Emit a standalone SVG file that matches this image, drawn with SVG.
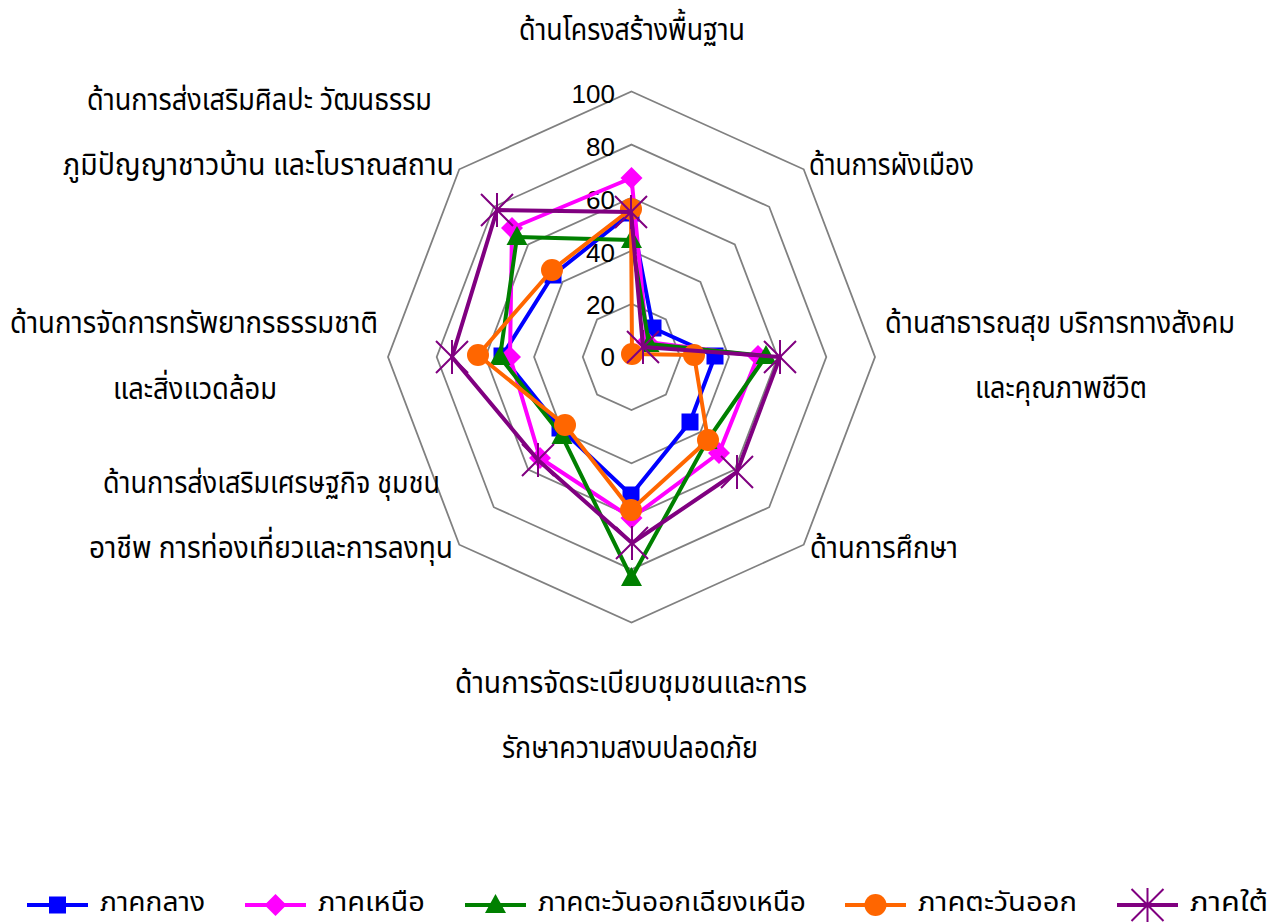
<svg xmlns="http://www.w3.org/2000/svg" xmlns:xlink="http://www.w3.org/1999/xlink" width="1284" height="923" viewBox="0 0 1284 923">
<style>
.grid{fill:none;stroke:#808080;stroke-width:1.8}
.lbl{font-family:"Noto Sans Thai","Noto Sans","DejaVu Sans",sans-serif;font-size:31px;fill:#000}
.leg{font-family:"Noto Sans Thai","Noto Sans","DejaVu Sans",sans-serif;font-size:27px;fill:#000}
.num{font-family:"Liberation Sans",Arial,sans-serif;font-size:26px;fill:#000;text-anchor:end}
.s{fill:none;stroke-width:4;stroke-linejoin:round}
</style>
<defs>
<rect id="mSq" x="-8.5" y="-8.5" width="17" height="17" fill="#0000FF"/>
<polygon id="mDi" points="0,-11 11,0 0,11 -11,0" fill="#FF00FF"/>
<polygon id="mTr" points="0,-11 10.5,8 -10.5,8" fill="#008000"/>
<circle id="mCi" r="11" fill="#FF6600"/>
<path id="mSt" d="M-16,-16L16,16M16,-16L-16,16M0,-17V17" stroke="#800080" stroke-width="2" fill="none"/>
</defs>
<rect width="1284" height="923" fill="#fff"/>
<g id="grid">
<polygon class="grid" points="631.5,91.5 803.7,169.3 875,357 803.7,544.7 631.5,622.5 459.3,544.7 388,357 459.3,169.3"/>
<polygon class="grid" points="631.5,144.6 769.2,206.8 826.3,357 769.2,507.2 631.5,569.4 493.8,507.2 436.7,357 493.8,206.8"/>
<polygon class="grid" points="631.5,197.7 734.8,244.4 777.6,357 734.8,469.6 631.5,516.3 528.2,469.6 485.4,357 528.2,244.4"/>
<polygon class="grid" points="631.5,250.8 700.4,281.9 728.9,357 700.4,432.1 631.5,463.2 562.6,432.1 534.1,357 562.6,281.9"/>
<polygon class="grid" points="631.5,303.9 665.9,319.5 680.2,357 665.9,394.5 631.5,410.1 597.1,394.5 582.8,357 597.1,319.5"/>
</g>
<g id="axis-values">
<text class="num" x="615" y="103">100</text>
<text class="num" x="615" y="156">80</text>
<text class="num" x="615" y="209">60</text>
<text class="num" x="615" y="262">40</text>
<text class="num" x="615" y="314">20</text>
<text class="num" x="615" y="366">0</text>
</g>
<g id="connectors">
<g id="series-central">
<polygon class="s" stroke="#0000FF" points="631,213 653,328 715,356 690,422 631,495 560,428 502,356 553,275"/>
<use href="#mSq" x="631" y="213"/><use href="#mSq" x="653" y="328"/><use href="#mSq" x="715" y="356"/><use href="#mSq" x="690" y="422"/><use href="#mSq" x="631" y="495"/><use href="#mSq" x="560" y="428"/><use href="#mSq" x="502" y="356"/><use href="#mSq" x="553" y="275"/>
</g>
<g id="series-north">
<polygon class="s" stroke="#FF00FF" points="631.5,178 647,342 758,356 719,453 631.5,518 540,458 510,357 512,228"/>
<use href="#mDi" x="631.5" y="178"/><use href="#mDi" x="647" y="342"/><use href="#mDi" x="758" y="356"/><use href="#mDi" x="719" y="453"/><use href="#mDi" x="631.5" y="518"/><use href="#mDi" x="540" y="458"/><use href="#mDi" x="510" y="357"/><use href="#mDi" x="512" y="228"/>
</g>
<g id="series-northeast">
<polygon class="s" stroke="#008000" points="631.5,240 649,344 766,356 707,441 631.5,578 562,436 500,357 517,237"/>
<use href="#mTr" x="631.5" y="240"/><use href="#mTr" x="649" y="344"/><use href="#mTr" x="766" y="356"/><use href="#mTr" x="707" y="441"/><use href="#mTr" x="631.5" y="578"/><use href="#mTr" x="562" y="436"/><use href="#mTr" x="500" y="357"/><use href="#mTr" x="517" y="237"/>
</g>
<g id="series-east">
<polygon class="s" stroke="#FF6600" points="631,209 632,354 694,355 708,440 631,510 565,425 478,355 552,270"/>
<use href="#mCi" x="631" y="209"/><use href="#mCi" x="632" y="354"/><use href="#mCi" x="694" y="355"/><use href="#mCi" x="708" y="440"/><use href="#mCi" x="631" y="510"/><use href="#mCi" x="565" y="425"/><use href="#mCi" x="478" y="355"/><use href="#mCi" x="552" y="270"/>
</g>
<g id="series-south">
<polygon class="s" stroke="#800080" points="631,212 643,347 780,357 737,472 632,543 538,460 452,357 497,210"/>
<use href="#mSt" x="631" y="212"/><use href="#mSt" x="643" y="347"/><use href="#mSt" x="780" y="357"/><use href="#mSt" x="737" y="472"/><use href="#mSt" x="632" y="543"/><use href="#mSt" x="538" y="460"/><use href="#mSt" x="452" y="357"/><use href="#mSt" x="497" y="210"/>
</g>
</g>
<g id="node-infrastructure"><text class="lbl" x="519" y="40" textLength="226" lengthAdjust="spacingAndGlyphs">ด้านโครงสร้างพื้นฐาน</text></g>
<g id="node-urban-planning"><text class="lbl" x="809" y="175" textLength="165" lengthAdjust="spacingAndGlyphs">ด้านการผังเมือง</text></g>
<g id="node-health"><text class="lbl" x="885" y="333" textLength="350" lengthAdjust="spacingAndGlyphs">ด้านสาธารณสุข บริการทางสังคม</text><text class="lbl" x="975" y="398" textLength="172" lengthAdjust="spacingAndGlyphs">และคุณภาพชีวิต</text></g>
<g id="node-education"><text class="lbl" x="810" y="558" textLength="148" lengthAdjust="spacingAndGlyphs">ด้านการศึกษา</text></g>
<g id="node-order-safety"><text class="lbl" x="455" y="693" textLength="352" lengthAdjust="spacingAndGlyphs">ด้านการจัดระเบียบชุมชนและการ</text><text class="lbl" x="502" y="758" textLength="256" lengthAdjust="spacingAndGlyphs">รักษาความสงบปลอดภัย</text></g>
<g id="node-economy"><text class="lbl" x="103" y="493" textLength="337" lengthAdjust="spacingAndGlyphs">ด้านการส่งเสริมเศรษฐกิจ ชุมชน</text><text class="lbl" x="89" y="558" textLength="364" lengthAdjust="spacingAndGlyphs">อาชีพ การท่องเที่ยวและการลงทุน</text></g>
<g id="node-environment"><text class="lbl" x="10" y="333" textLength="368" lengthAdjust="spacingAndGlyphs">ด้านการจัดการทรัพยากรธรรมชาติ</text><text class="lbl" x="113" y="399" textLength="164" lengthAdjust="spacingAndGlyphs">และสิ่งแวดล้อม</text></g>
<g id="node-culture"><text class="lbl" x="87" y="110" textLength="345" lengthAdjust="spacingAndGlyphs">ด้านการส่งเสริมศิลปะ วัฒนธรรม</text><text class="lbl" x="63" y="175" textLength="391" lengthAdjust="spacingAndGlyphs">ภูมิปัญญาชาวบ้าน และโบราณสถาน</text></g>
<g id="legend">
<line x1="27" y1="905" x2="88" y2="905" stroke="#0000FF" stroke-width="4"/><use href="#mSq" x="57.5" y="905"/>
<text class="leg" x="100" y="911" textLength="105" lengthAdjust="spacingAndGlyphs">ภาคกลาง</text>
<line x1="245" y1="905" x2="306" y2="905" stroke="#FF00FF" stroke-width="4"/><use href="#mDi" x="275.5" y="905"/>
<text class="leg" x="318" y="911" textLength="107" lengthAdjust="spacingAndGlyphs">ภาคเหนือ</text>
<line x1="465" y1="905" x2="526" y2="905" stroke="#008000" stroke-width="4"/><use href="#mTr" x="495.5" y="905"/>
<text class="leg" x="538" y="911" textLength="268" lengthAdjust="spacingAndGlyphs">ภาคตะวันออกเฉียงเหนือ</text>
<line x1="845" y1="905" x2="906" y2="905" stroke="#FF6600" stroke-width="4"/><use href="#mCi" x="875.5" y="905"/>
<text class="leg" x="918" y="911" textLength="159" lengthAdjust="spacingAndGlyphs">ภาคตะวันออก</text>
<line x1="1117" y1="905" x2="1178" y2="905" stroke="#800080" stroke-width="4"/><use href="#mSt" x="1147.5" y="905"/>
<text class="leg" x="1190" y="911" textLength="78" lengthAdjust="spacingAndGlyphs">ภาคใต้</text>
</g>
</svg>
